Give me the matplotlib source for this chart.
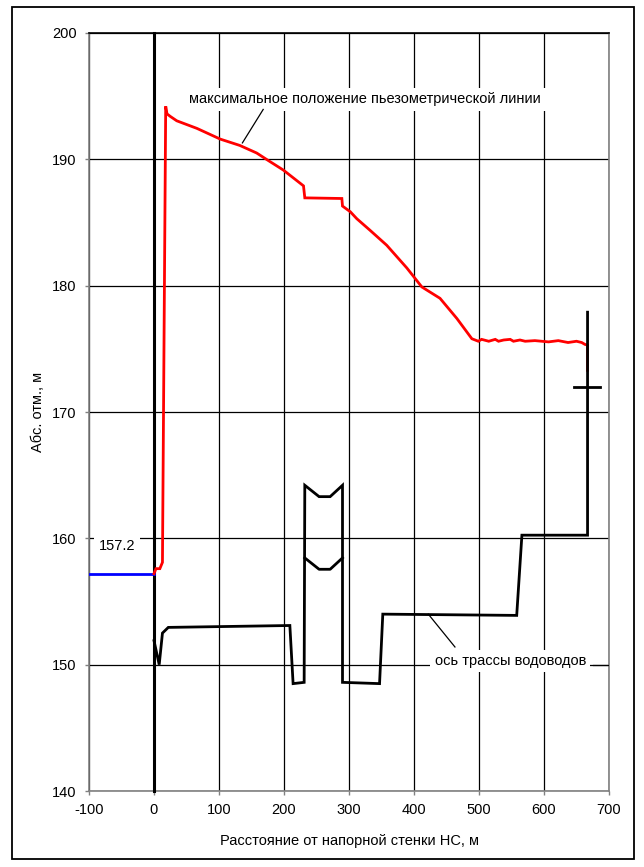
#!/usr/bin/env python3
import matplotlib

matplotlib.use("Agg")
import matplotlib.pyplot as plt
from matplotlib.patches import Rectangle

OUTPUT_PATH = "out.png"
FIG_W_PX = 644
FIG_H_PX = 867
DPI = 100
FONT_SIZE = 10.5

# maximum piezometric line (red)
piezo_x = [0, 3, 9, 13, 18, 20, 25, 35, 66, 102, 132, 158, 176, 199, 230,
           232, 289, 290, 302, 312, 332, 358, 389, 412, 440, 466, 489,
           499, 504, 515, 525, 530, 538, 548, 553, 563, 571, 586, 607,
           622, 637, 650, 658, 663, 667, 667]
piezo_y = [157.2, 157.6, 157.6, 158.1, 194.2, 193.6, 193.4, 193.05, 192.45,
           191.6, 191.1, 190.5, 189.9, 189.15, 187.9, 186.95, 186.9, 186.3,
           185.85, 185.3, 184.4, 183.2, 181.4, 179.9, 179.0, 177.4, 175.8,
           175.6, 175.75, 175.6, 175.75, 175.6, 175.7, 175.75, 175.6, 175.7,
           175.6, 175.65, 175.55, 175.65, 175.5, 175.6, 175.5, 175.35,
           175.3, 173.3]

# pipeline axis (black)
pipe_x = [0, 8, 13, 22, 209, 214, 231, 232, 254, 271, 290, 290, 347, 352,
          558, 566, 667, 667]
pipe_y = [151.9, 150.0, 152.5, 152.95, 153.1, 148.5, 148.6, 164.2, 163.3,
          163.3, 164.2, 148.6, 148.5, 154.0, 153.9, 160.25, 160.25, 177.9]

# inner chevron of the crossing
chevron_x = [232, 254, 271, 290]
chevron_y = [158.45, 157.55, 157.55, 158.45]

# outlet marker
cross_x = [646, 686]
cross_y = [172.0, 172.0]

# water level upstream (blue)
level_x = [-100, 0]
level_y = [157.2, 157.2]
level_label = "157.2"

# pressure wall at x = 0
wall_x = [0, 0]
wall_y = [140, 200]

x_ticks = [-100, 0, 100, 200, 300, 400, 500, 600, 700]
y_ticks = [140, 150, 160, 170, 180, 190, 200]

piezo_label = "максимальное положение пьезометрической линии"
pipe_label = "ось трассы водоводов"
x_label = "Расстояние от напорной стенки НС, м"
y_label = "Абс. отм., м"


def main() -> None:
    plt.rcParams["font.family"] = ["Liberation Sans", "DejaVu Sans"]
    plt.rcParams["font.size"] = FONT_SIZE
    plt.rcParams["axes.unicode_minus"] = False

    fig = plt.figure(figsize=(FIG_W_PX / DPI, FIG_H_PX / DPI), dpi=DPI)
    fig.patch.set_facecolor("white")

    # outer frame around the whole chart
    fig.patches.append(Rectangle(
        (12 / FIG_W_PX, 1 - 859 / FIG_H_PX),
        622 / FIG_W_PX, 852 / FIG_H_PX,
        transform=fig.transFigure, fill=False, edgecolor="black",
        linewidth=1.3,
    ))

    ax = fig.add_axes([89 / FIG_W_PX, 1 - 791 / FIG_H_PX,
                       520 / FIG_W_PX, 758 / FIG_H_PX])

    ax.set_xlim(x_ticks[0], x_ticks[-1])
    ax.set_ylim(y_ticks[0], y_ticks[-1])
    ax.set_xticks(x_ticks)
    ax.set_yticks(y_ticks)
    ax.grid(True, color="black", linewidth=0.9, zorder=1)
    ax.tick_params(direction="out", length=3, color="#808080", width=1,
                   labelsize=FONT_SIZE, pad=6)
    for spine in ax.spines.values():
        spine.set_color("#808080")
        spine.set_linewidth(1.2)
    ax.spines["top"].set_color("black")

    ax.plot(wall_x, wall_y, color="black", linewidth=2.2, zorder=3,
            clip_on=False)
    ax.plot(level_x, level_y, color="#0000FF", linewidth=2, zorder=4)
    ax.plot(piezo_x, piezo_y, color="#FF0000", linewidth=2,
            solid_joinstyle="miter", zorder=4)
    ax.plot(pipe_x, pipe_y, color="black", linewidth=2,
            solid_joinstyle="miter", zorder=4)
    ax.plot(chevron_x, chevron_y, color="black", linewidth=2, zorder=4)
    ax.plot(cross_x, cross_y, color="black", linewidth=2, zorder=4)

    box = dict(boxstyle="square,pad=0.3", facecolor="white",
               edgecolor="none")

    ax.text(-57, 159.4, level_label, ha="center", va="center",
            bbox=box, zorder=5)

    # data labels with leader lines
    ax.text(325, 194.75, piezo_label, ha="center", va="center", bbox=box,
            zorder=5)
    ax.plot([168, 136], [193.95, 191.3], color="black", linewidth=0.9,
            zorder=6)

    ax.text(548, 150.3, pipe_label, ha="center", va="center", bbox=box,
            zorder=5)
    ax.plot([463, 422], [151.4, 154.0], color="black", linewidth=0.9,
            zorder=6)
    ax.plot([675, 700], [150.0, 150.0], color="black", linewidth=0.9,
            zorder=6)

    ax.set_xlabel(x_label, labelpad=12)
    ax.set_ylabel(y_label, labelpad=5)

    fig.savefig(OUTPUT_PATH, dpi=DPI, facecolor="white")
    plt.close(fig)


if __name__ == "__main__":
    main()
